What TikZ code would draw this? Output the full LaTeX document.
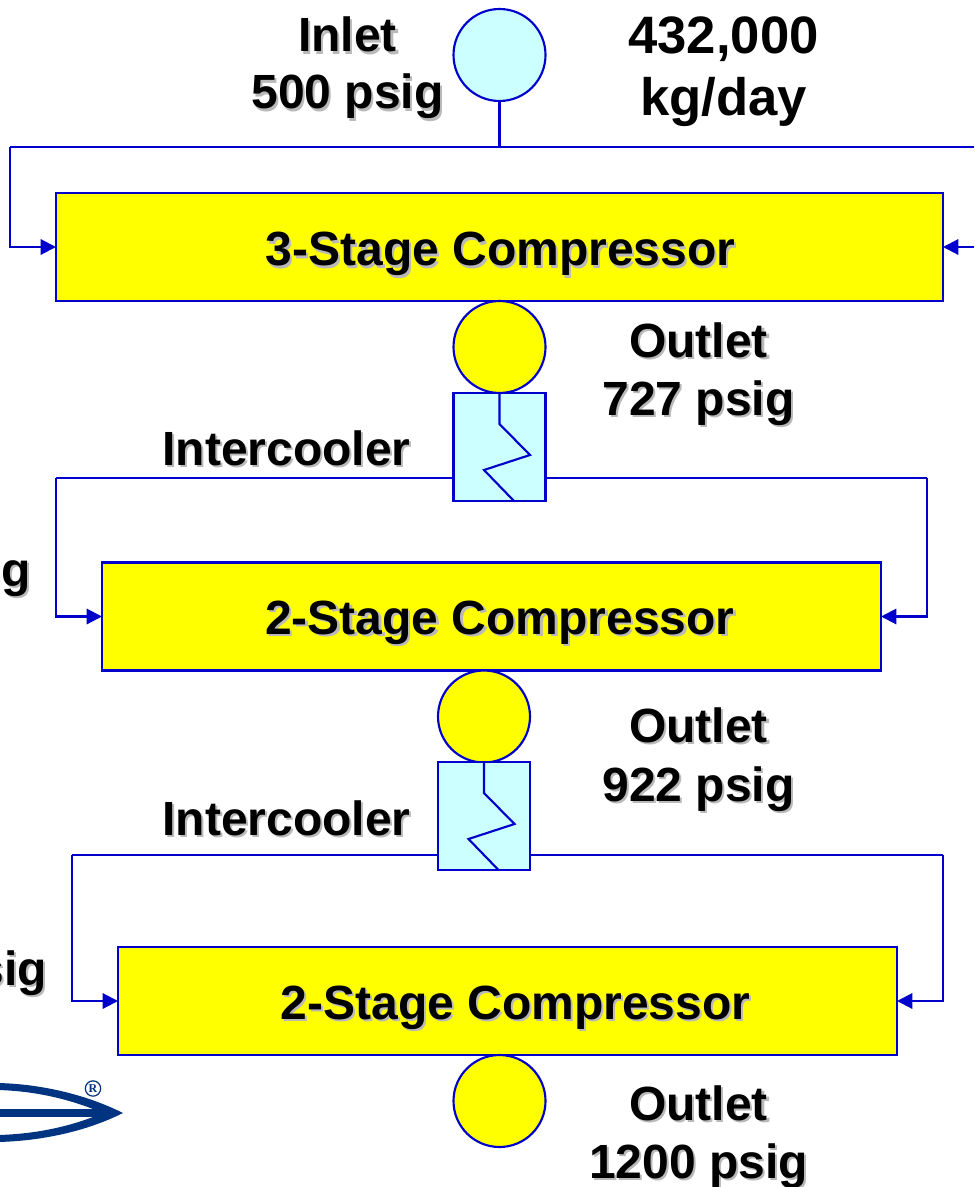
\documentclass[tikz,border=0pt]{standalone}
\usepackage{fontspec}
\setmainfont{Liberation Sans}
\newfontfamily\regfont{Liberation Serif}
\usetikzlibrary{arrows.meta}
\definecolor{lineblue}{RGB}{0,0,204}
\definecolor{coolcyan}{RGB}{204,255,255}
\definecolor{stageyellow}{RGB}{255,255,0}
\definecolor{shadowgray}{RGB}{185,185,185}
\definecolor{logoblue}{RGB}{0,51,128}
\newcommand{\shd}[1]{\leavevmode\rlap{\raisebox{-1.6pt}{\hspace{1.6pt}\textcolor{shadowgray}{#1}}}#1}
\tikzset{
  flow/.style={draw=lineblue,line width=1.6pt},
  feed/.style={flow,-{Triangle[length=11.5pt,width=11.5pt]}},
  stagebox/.style={rectangle,draw=lineblue,line width=1.6pt,fill=stageyellow,inner sep=0pt,outer sep=0pt,minimum height=81pt},
  ball/.style={circle,draw=lineblue,line width=1.6pt,inner sep=0pt,outer sep=0pt,minimum size=69pt},
  coolerbox/.style={rectangle,draw=lineblue,line width=1.6pt,fill=coolcyan,inner sep=0pt,outer sep=0pt,minimum width=69pt,minimum height=81pt},
  lab/.style={anchor=base,inner sep=0pt,font=\fontsize{36}{40}\selectfont\bfseries},
  biglab/.style={anchor=base,inner sep=0pt,font=\fontsize{39.5}{44}\selectfont\bfseries},
  edgelab/.style={anchor=base east,inner sep=0pt,font=\fontsize{36}{40}\selectfont\bfseries}
}
\begin{document}
\begin{tikzpicture}[x=0.75pt,y=-0.75pt]
\clip (0,0) rectangle (974,1187);
\fill[white] (0,0) rectangle (974,1187);

% named free ends
\coordinate (feedL) at (10,147);
\coordinate (feedR) at (974,147);
\coordinate (returnR) at (974,247);
\coordinate (iclA) at (454,478);
\coordinate (icrA) at (545,478);
\coordinate (iclB) at (438,855);
\coordinate (icrB) at (530,855);
\coordinate (cornLA) at (56,478);
\coordinate (cornRA) at (927,478);
\coordinate (cornLB) at (72,855);
\coordinate (cornRB) at (943,855);
\coordinate (junction) at (499.5,147);

% boxes
\node[stagebox,minimum width=665.25pt] (boxA) at (499.5,247) {};
\node[stagebox,minimum width=584.25pt] (boxB) at (491.5,616.5) {};
\node[stagebox,minimum width=584.25pt] (boxC) at (507.5,1001) {};

\node[ball,fill=coolcyan] (inlet) at (499.5,55) {};
\node[ball,fill=stageyellow] (outA) at (499.5,347) {};
\node[ball,fill=stageyellow] (outB) at (484,716.5) {};
\node[ball,fill=stageyellow] (outC) at (499.5,1101) {};

\node[coolerbox] (icA) at (499.5,447) {};
\node[coolerbox] (icB) at (484,816) {};

% connectors
\draw[flow] (inlet.south) -- (junction);
\draw[flow] (feedR) -- (feedL);
\draw[feed] (feedL) |- (boxA.west);
\draw[feed] (returnR) -- (boxA.east);
\draw[flow] (iclA) -- (cornLA);
\draw[feed] (cornLA) |- (boxB.west);
\draw[flow] (icrA) -- (cornRA);
\draw[feed] (cornRA) |- (boxB.east);
\draw[flow] (iclB) -- (cornLB);
\draw[feed] (cornLB) |- (boxC.west);
\draw[flow] (icrB) -- (cornRB);
\draw[feed] (cornRB) |- (boxC.east);

% cooler zigzags
\draw[flow,line join=miter] (icA.north) -- ++(0,31) -- ++(30.5,31) -- ++(-46,15) -- ++(30,31);
\draw[flow,line join=miter] (icB.north) -- ++(0,31) -- ++(30.5,31) -- ++(-46,15) -- ++(30,31);

% labels
\node[lab] (tInlet) at (347.5,52) {\shd{Inlet}};
\node[lab] (tInletP) at (347.5,109) {\shd{500 psig}};
\node[biglab] (tRate) at (723.5,53.5) {432,000};
\node[biglab] (tRateU) at (723.5,116) {kg/day};
\node[lab] (tA) at (500.5,266) {\shd{3-Stage Compressor}};
\node[lab] (tOutA) at (698.5,357) {\shd{Outlet}};
\node[lab] (tOutAP) at (698.5,415) {\shd{727 psig}};
\node[lab] (tIcA) at (286.5,465) {\shd{Intercooler}};
\node[edgelab] (tEdgeA) at (31,586.5) {\shd{ig}};
\node[lab] (tB) at (500,634) {\shd{2-Stage Compressor}};
\node[lab] (tOutB) at (698.5,742) {\shd{Outlet}};
\node[lab] (tOutBP) at (698.5,801) {\shd{922 psig}};
\node[lab] (tIcB) at (286.5,835) {\shd{Intercooler}};
\node[edgelab] (tEdgeB) at (47,985) {\shd{sig}};
\node[lab] (tC) at (515.5,1019) {\shd{2-Stage Compressor}};
\node[lab] (tOutC) at (698.5,1120) {\shd{Outlet}};
\node[lab] (tOutCP) at (698.5,1178) {\shd{1200 psig}};

% logo
\fill[logoblue] (-2,1109) rectangle (105,1116.5);
\fill[logoblue] (-2,1083) .. controls (40,1084) and (85,1094) .. (123,1113)
   .. controls (85,1132) and (40,1141) .. (-2,1142) -- (-2,1135)
   .. controls (35,1134) and (70,1127) .. (103,1113)
   .. controls (70,1099) and (35,1091) .. (-2,1090) -- cycle;
\node[circle,draw=logoblue,line width=0.9pt,inner sep=0pt,minimum size=11.5pt,text=logoblue,font=\regfont\fontsize{9}{9}\selectfont\bfseries] (reg) at (93,1088.5) {R};
\end{tikzpicture}
\end{document}
